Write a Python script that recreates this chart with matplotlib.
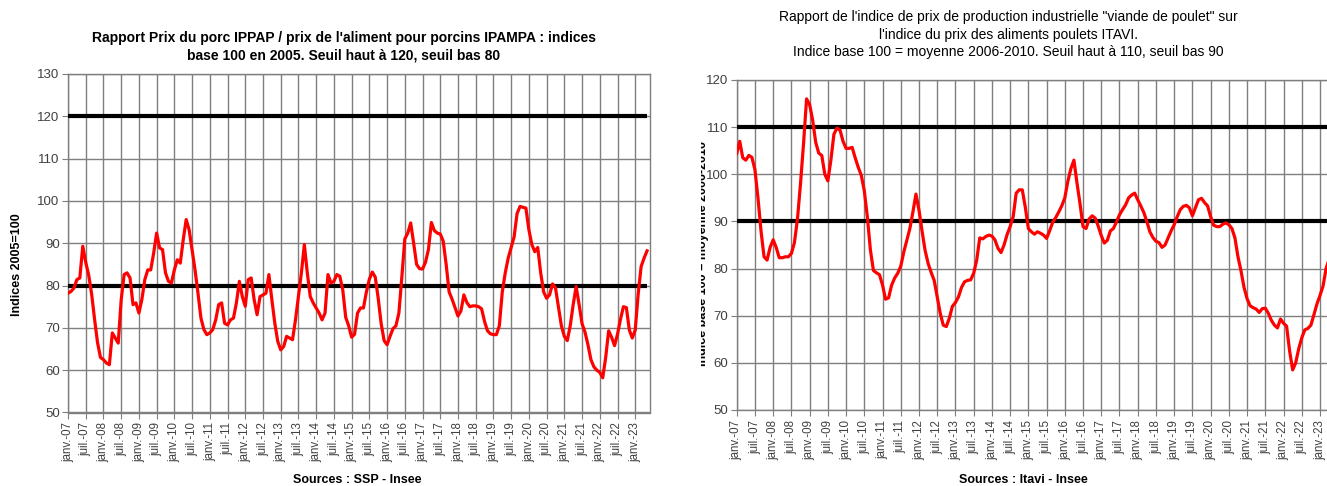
import matplotlib
matplotlib.use("Agg")
import matplotlib.pyplot as plt
from matplotlib import font_manager
from matplotlib.transforms import Bbox

names = {f.name for f in font_manager.fontManager.ttflist}
NARROW = 'Liberation Sans Narrow' if 'Liberation Sans Narrow' in names else 'Liberation Sans'
plt.rcParams['font.family'] = ['Liberation Sans', 'DejaVu Sans']

# ---------------- data ----------------
years = list(range(7, 24))
tick_labels = []
for y in years:
    tick_labels.append(f"janv.-{y:02d}")
    if y != 23:
        tick_labels.append(f"juil.-{y:02d}")

# Porc : IPPAP / IPAMPA, monthly from janv. 2007
porc = [78.2, 78.6, 79.4, 81.4, 81.8, 89.3, 85.5, 82.5, 78.0, 72.0, 66.5, 63.0,
        62.5, 61.7, 61.3, 68.8, 67.6, 66.4, 76.6, 82.6, 83.0, 81.8, 75.5, 75.9,
        73.5, 76.7, 81.4, 83.7, 83.7, 87.7, 92.4, 88.9, 88.5, 83.0, 81.0, 80.6,
        83.7, 86.1, 85.3, 90.8, 95.6, 93.2, 88.5, 83.7, 78.2, 72.3, 69.6, 68.4,
        68.8, 69.6, 71.9, 75.5, 75.9, 71.1, 70.7, 71.9, 72.3, 75.9, 81.0, 77.4,
        75.1, 81.4, 81.8, 76.7, 73.1, 77.4, 77.8, 78.2, 82.6, 76.7, 71.1, 66.8,
        64.8, 65.6, 68.0, 67.6, 67.2, 71.9, 77.4, 83.0, 89.7, 83.0, 77.4, 75.9,
        74.7, 73.5, 71.9, 73.5, 82.6, 80.6, 81.0, 82.6, 82.2, 79.0, 72.5, 70.5,
        67.8, 68.5, 73.5, 74.7, 74.7, 78.5, 81.5, 83.2, 82.0, 77.0, 71.0, 67.0,
        66.0, 68.0, 69.8, 70.5, 73.5, 82.0, 91.0, 92.4, 94.8, 90.0, 85.0, 84.0,
        83.9, 85.5, 88.5, 94.9, 93.0, 92.4, 92.2, 90.5, 85.0, 78.5, 76.8, 74.8,
        72.8, 74.0, 77.8, 76.0, 75.0, 75.2, 75.2, 75.0, 74.5, 71.5, 69.3, 68.6,
        68.4, 68.4, 70.5, 78.5, 83.0, 86.5, 89.0, 91.5, 97.0, 98.7, 98.5, 98.3,
        93.2, 89.7, 88.0, 89.0, 83.0, 78.5, 77.0, 77.8, 80.4, 79.5, 75.0, 70.5,
        68.0, 67.0, 70.5, 75.5, 79.8, 75.5, 71.0, 69.0, 66.0, 62.5, 60.8, 60.0,
        59.5, 58.2, 63.0, 69.3, 67.8, 65.8, 68.5, 72.0, 75.0, 74.8, 69.5, 67.6,
        69.5, 78.0, 84.5, 86.5, 88.2]
porc_haut = 120
porc_bas = 80

# Poulet : indice viande de poulet / aliments poulets ITAVI
poulet = [104.4, 107.0, 103.5, 103.0, 104.0, 103.6, 101.0, 95.0, 88.0, 82.5, 81.8, 84.5,
          86.1, 84.5, 82.3, 82.3, 82.5, 82.5, 83.2, 85.5, 90.5, 98.0, 106.5, 116.0,
          114.8, 111.5, 106.8, 104.5, 104.0, 100.0, 98.6, 103.0, 108.5, 109.8, 109.4, 107.0,
          105.5, 105.5, 105.7, 103.5, 101.5, 99.8, 96.5, 91.0, 84.0, 79.6, 79.1, 78.7,
          76.5, 73.5, 73.8, 76.5, 78.0, 79.0, 80.5, 83.5, 86.0, 88.5, 92.0, 95.8,
          92.4, 88.0, 83.9, 81.1, 79.2, 77.5, 74.0, 70.5, 68.0, 67.7, 69.5, 72.0,
          72.8, 74.0, 76.0, 77.2, 77.5, 77.6, 79.0, 81.8, 86.5, 86.3, 86.8, 87.1,
          86.9, 86.1, 84.3, 83.4, 85.0, 87.2, 88.9, 91.0, 96.0, 96.7, 96.7, 93.0,
          88.5, 87.8, 87.3, 87.8, 87.5, 87.1, 86.4, 88.0, 89.8, 90.8, 92.0, 93.3,
          95.0, 98.5, 101.2, 103.0, 98.2, 93.8, 88.9, 88.5, 90.5, 91.2, 90.7, 89.0,
          87.0, 85.4, 86.0, 88.0, 88.5, 89.9, 91.4, 92.5, 93.5, 95.0, 95.6, 96.0,
          94.6, 93.3, 91.9, 90.0, 87.8, 86.6, 85.8, 85.5, 84.5, 85.0, 86.5, 88.0,
          89.3, 91.0, 92.5, 93.2, 93.4, 92.9, 91.2, 92.9, 94.6, 94.9, 94.0, 93.3,
          91.0, 89.2, 88.9, 88.9, 89.4, 89.7, 89.3, 88.5, 86.5, 82.5, 79.5, 76.0,
          73.6, 72.1, 71.7, 71.4, 70.7, 71.5, 71.6, 70.5, 69.0, 68.0, 67.4, 69.3,
          68.4, 67.8, 62.5, 58.5, 60.0, 63.0, 65.3, 67.0, 67.3, 68.0, 70.2, 72.5,
          74.3, 76.3, 80.0, 82.0]
poulet_haut = 110
poulet_bas = 90

# ---------------- figure ----------------
W, H = 1327, 486
fig = plt.figure(figsize=(W / 100, H / 100), dpi=100)

def px_axes(x0, x1, ytop, ybot):
    return fig.add_axes([x0 / W, (H - ybot) / H, (x1 - x0) / W, (ybot - ytop) / H])

GRID = '#7f7f7f'
TXT = '#404040'

def style(ax, ymin, ymax, xmax):
    ax.set_xlim(0, xmax)
    ax.set_ylim(ymin, ymax)
    ax.set_yticks(range(ymin, ymax + 1, 10))
    ax.set_xticks(range(0, 193, 6))
    ax.set_xticklabels(tick_labels, rotation=90, fontsize=8.3, color=TXT, family=NARROW)
    ax.tick_params(axis='y', labelsize=9.5, colors=TXT, length=4, width=0.8, color=GRID, pad=2)
    ax.tick_params(axis='x', length=4, width=0.8, color=GRID, pad=3)
    for lab in ax.get_yticklabels():
        lab.set_family(NARROW)
    ax.grid(True, color=GRID, linewidth=1.0)
    ax.set_axisbelow(True)
    for s in ax.spines.values():
        s.set_color(GRID)
        s.set_linewidth(1.0)

# ---- left chart
ax1 = px_axes(68, 650, 74, 412.5)
style(ax1, 50, 130, 197)
n1 = len(porc)
ax1.plot(range(n1), [porc_haut] * n1, color='black', lw=3.0, solid_capstyle='butt', zorder=3)
ax1.plot(range(n1), [porc_bas] * n1, color='black', lw=3.0, solid_capstyle='butt', zorder=3)
ax1.plot(range(n1), porc, color='#ff0000', lw=2.3, zorder=4)

fig.text(344 / W, 1 - 38 / H,
         "Rapport Prix du porc IPPAP / prix de l'aliment pour porcins IPAMPA : indices",
         ha='center', va='center', fontsize=10, fontweight='bold', family=NARROW)
fig.text(344 / W, 1 - 56 / H, "base 100 en 2005. Seuil haut à 120, seuil bas 80",
         ha='center', va='center', fontsize=10, fontweight='bold', family=NARROW)
fig.text(17 / W, 1 - 265 / H, "Indices 2005=100", rotation=90, ha='center', va='center',
         fontsize=9, fontweight='bold')
fig.text(357 / W, 1 - 480 / H, "Sources : SSP - Insee", ha='center', va='center',
         fontsize=9, fontweight='bold', family=NARROW)

# ---- right chart (cut at the image edge)
ax2 = px_axes(736.7, 736.7 + 197 * 3.038, 80, 410)
style(ax2, 50, 120, 197)
n2 = len(poulet)
ax2.plot(range(n2 + 2), [poulet_haut] * (n2 + 2), color='black', lw=3.0, solid_capstyle='butt', zorder=3)
ax2.plot(range(n2 + 2), [poulet_bas] * (n2 + 2), color='black', lw=3.0, solid_capstyle='butt', zorder=3)
ax2.plot(range(n2), poulet, color='#ff0000', lw=2.3, zorder=4)

for i, line in enumerate(["Rapport de l'indice de prix de production industrielle \"viande de poulet\" sur",
                          "l'indice du prix des aliments poulets ITAVI.",
                          "Indice base 100 = moyenne 2006-2010. Seuil haut à 110, seuil bas 90"]):
    fig.text(1008 / W, 1 - (17 + 17.5 * i) / H, line, ha='center', va='center',
             fontsize=10, family=NARROW)

yl = fig.text(703 / W, 1 - 253 / H, "Indice base 100 = moyenne 2006-2010", rotation=90,
              ha='center', va='center', fontsize=9, fontweight='bold')
yl.set_clip_on(True)
yl.set_clip_box(Bbox.from_extents(701, 0, 720, H))

fig.text(1023 / W, 1 - 480 / H, "Sources : Itavi - Insee", ha='center', va='center',
         fontsize=9, fontweight='bold', family=NARROW)

fig.savefig("out.png", dpi=100)
